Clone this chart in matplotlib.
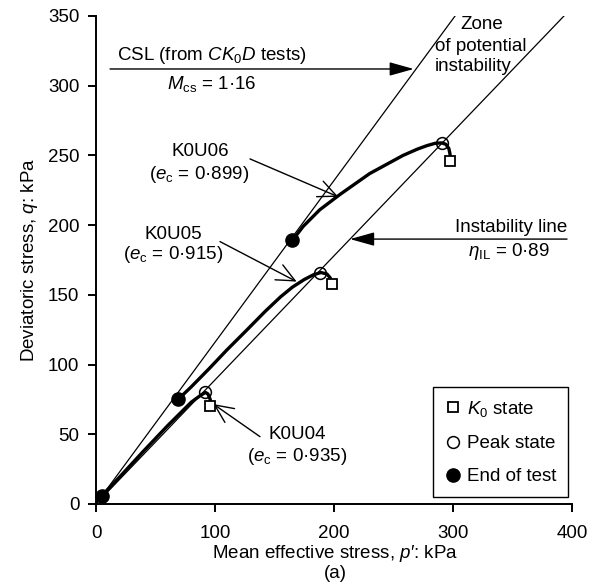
import matplotlib
matplotlib.use("Agg")
import matplotlib.pyplot as plt
from matplotlib.lines import Line2D

plt.rcParams['font.family'] = ['Liberation Sans', 'DejaVu Sans']
plt.rcParams['mathtext.fontset'] = 'custom'
plt.rcParams['mathtext.rm'] = 'Liberation Sans'
plt.rcParams['mathtext.it'] = 'Liberation Sans:italic'
plt.rcParams['mathtext.bf'] = 'Liberation Sans:bold'
FS = 13.5
plt.rcParams['font.size'] = FS

# reference lines
m_cs = 1.16
eta_il = 0.89

# stress paths (end of test -> peak -> K0 state)
k0u04_p = [5, 20, 40, 60, 80, 88, 92, 94, 96, 96]
k0u04_q = [6, 19.5, 38, 56, 73, 78, 80, 79, 75, 70]
k0u05_p = [69, 80, 95, 110, 127, 142, 155, 165, 175, 183, 189, 194, 197, 198]
k0u05_q = [75, 84, 97, 110.5, 125, 138, 148.5, 155.5, 161, 164.5, 166, 165, 162, 158]
k0u06_p = [165, 174, 188, 205, 230, 258, 270, 278, 285, 290.5, 294, 296.5, 297.5, 297.5]
k0u06_q = [189, 199, 211, 222, 237, 250, 254.5, 257, 258.7, 259, 258, 255, 251, 246]

# states
k0_p = [96, 198, 297.5]
k0_q = [70, 158, 246]
peak_p = [92, 188.5, 290.5]
peak_q = [80, 166, 259]
end_p = [5, 69, 165]
end_q = [6, 75, 189]

fig = plt.figure(figsize=(5.98, 5.82), dpi=100)
ax = fig.add_axes([96 / 598, 78 / 582, 476 / 598, 488 / 582])

ax.plot([0, 350 / m_cs], [0, 350], color='black', lw=0.9)
ax.plot([0, 350 / eta_il], [0, 350], color='black', lw=0.9)

for p, q in [(k0u04_p, k0u04_q), (k0u05_p, k0u05_q), (k0u06_p, k0u06_q)]:
    ax.plot(p, q, color='black', lw=2.4, solid_capstyle='round', solid_joinstyle='round')

ax.plot(k0_p, k0_q, 's', ms=7, mfc='white', mec='black', mew=1.3, ls='none', zorder=5)
ax.plot(peak_p, peak_q, 'o', ms=8.5, mfc='none', mec='black', mew=1.1, ls='none', zorder=5)
ax.plot(end_p, end_q, 'o', ms=9.5, mfc='black', mec='black', ls='none', zorder=5, clip_on=False)

ax.set_xlim(0, 400)
ax.set_ylim(0, 350)
ax.set_xticks([0, 100, 200, 300, 400])
ax.set_yticks([0, 50, 100, 150, 200, 250, 300, 350])
ax.spines['top'].set_visible(False)
ax.spines['right'].set_visible(False)
ax.spines['left'].set_linewidth(1.4)
ax.spines['bottom'].set_linewidth(1.4)
ax.tick_params(direction='out', length=6, width=1.4, labelsize=FS, pad=6)
ax.tick_params(axis='x', pad=9)

ax.set_ylabel("Deviatoric stress, $q$: kPa", fontsize=FS, labelpad=6)
fig.text(335 / 598, 1 - 553 / 582, "Mean effective stress, $p$′: kPa", ha='center', va='center')
fig.text(335 / 598, 1 - 574 / 582, "(a)", ha='center', va='center')

# arrows
filled = dict(arrowstyle='-|>,head_length=1.0,head_width=0.28', mutation_scale=15,
              color='black', lw=1.0, shrinkA=0, shrinkB=0)
openv = dict(arrowstyle='->,head_length=1.2,head_width=0.55', mutation_scale=11,
             color='black', lw=1.0, shrinkA=0, shrinkB=0)

ax.annotate('', xy=(267, 312), xytext=(11.8, 312), arrowprops=filled)
ax.text(97.5, 322, r"CSL (from $\mathit{CK}_0\mathit{D}$ tests)", ha='center', va='center')
ax.text(97.5, 301, r"$M_{\rm cs}$ = 1·16", ha='center', va='center')

ax.annotate('', xy=(213.5, 190), xytext=(395.8, 190), arrowprops=filled)
ax.text(395.8, 198.5, "Instability line", ha='right', va='center')
ax.text(347, 181, r"$\eta_{\rm IL}$ = 0·89", ha='center', va='center')

ax.text(305.9, 343.6, "Zone", ha='left', va='center')
ax.text(284.9, 327.8, "of potential", ha='left', va='center')
ax.text(284.9, 313.5, "instability", ha='left', va='center')

ax.annotate('', xy=(203.6, 220.3), xytext=(129.4, 247.5), arrowprops=openv)
ax.text(87.4, 252.5, "K0U06", ha='center', va='center')
ax.text(86.6, 236, r"($e_{\rm c}$ = 0·899)", ha='center', va='center')

ax.annotate('', xy=(168.6, 159.5), xytext=(104.2, 188.2), arrowprops=openv)
ax.text(64.7, 193, "K0U05", ha='center', va='center')
ax.text(64.7, 178.6, r"($e_{\rm c}$ = 0·915)", ha='center', va='center')

ax.annotate('', xy=(98.6, 71.7), xytext=(137.8, 48.3), arrowprops=openv)
ax.text(169, 49.5, "K0U04", ha='center', va='center')
ax.text(169, 33.9, r"($e_{\rm c}$ = 0·935)", ha='center', va='center')

handles = [
    Line2D([], [], marker='s', ms=7, mfc='white', mec='black', mew=1.3, ls='none'),
    Line2D([], [], marker='o', ms=8.5, mfc='white', mec='black', mew=1.1, ls='none'),
    Line2D([], [], marker='o', ms=9.5, mfc='black', mec='black', ls='none'),
]
labels = ["$K_0$ state", "Peak state", "End of test"]
leg = ax.legend(handles, labels, loc='lower right', bbox_to_anchor=(0.992, 0.0137),
                borderaxespad=0, fancybox=False, framealpha=1, edgecolor='black',
                handlelength=0.8, handletextpad=0.35, labelspacing=0.85, borderpad=0.65,
                fontsize=FS)
leg.get_frame().set_linewidth(1.0)

fig.savefig("out.png", dpi=100)
